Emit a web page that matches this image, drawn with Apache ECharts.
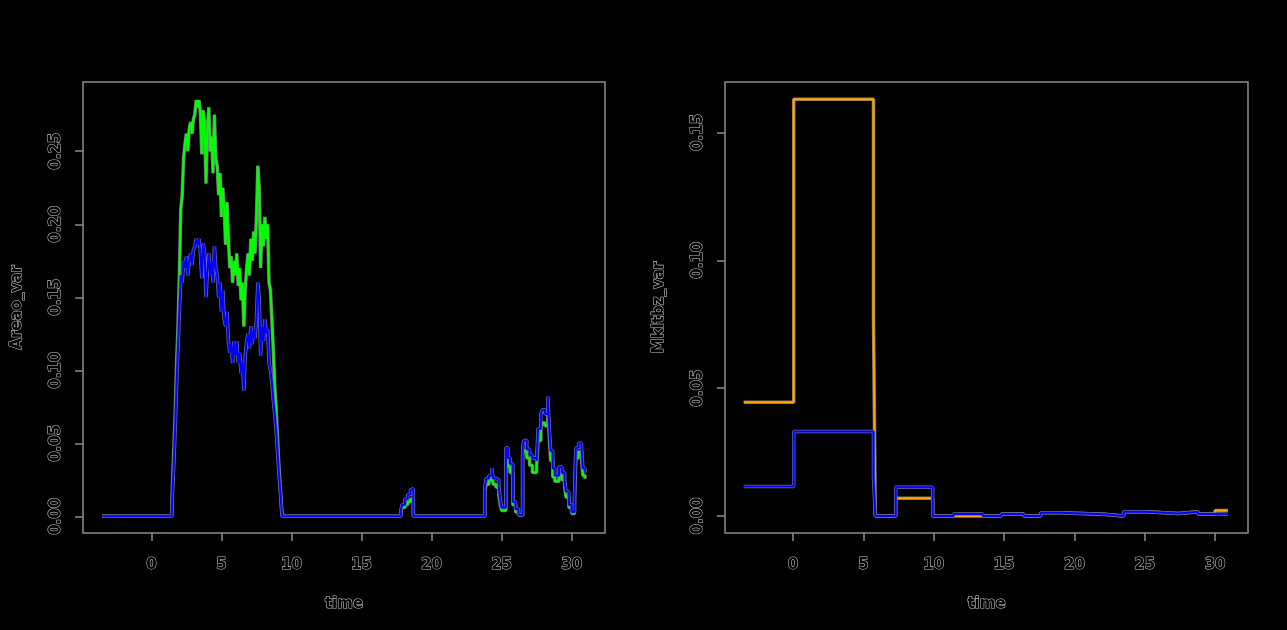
<!DOCTYPE html>
<html>
<head>
<meta charset="utf-8">
<script src="https://cdn.jsdelivr.net/npm/echarts@6/dist/echarts.min.js"></script>
<style>
html,body{margin:0;padding:0;background:#000;}
#c{width:1287px;height:630px;}
</style>
</head>
<body>
<div id="c"></div>
<script>
// ---- Left panel data ----
const timeL = [-3.5,1.45,1.5,1.6,1.7,1.8,1.9,2.0,2.1,2.2,2.3,2.4,2.5,2.6,2.7,2.8,2.9,3.0,3.1,3.2,3.3,3.4,3.5,3.6,3.7,3.8,3.9,4.0,4.1,4.2,4.3,4.4,4.5,4.6,4.7,4.8,4.9,5.0,5.1,5.2,5.3,5.4,5.5,5.6,5.7,5.8,5.9,6.0,6.1,6.2,6.3,6.4,6.5,6.6,6.7,6.8,6.9,7.0,7.1,7.2,7.3,7.4,7.5,7.6,7.7,7.8,7.9,8.0,8.1,8.2,8.3,8.4,8.5,8.6,8.7,8.8,8.9,9.0,9.1,9.2,9.3,9.35,17.8,17.9,18.1,18.3,18.5,18.6,18.7,23.8,23.9,24.1,24.3,24.4,24.6,24.8,24.9,25.0,25.3,25.45,25.6,25.8,26.0,26.2,26.5,26.6,26.8,27.0,27.2,27.5,27.6,27.8,27.9,28.1,28.3,28.4,28.5,28.65,28.8,29.1,29.3,29.5,29.6,29.8,30.0,30.2,30.3,30.5,30.7,30.8,30.95];
const greenL = [0,0,0.02,0.045,0.07,0.105,0.13,0.165,0.21,0.22,0.245,0.255,0.262,0.25,0.265,0.27,0.262,0.272,0.275,0.285,0.28,0.285,0.276,0.248,0.278,0.27,0.228,0.265,0.28,0.25,0.26,0.235,0.275,0.245,0.24,0.22,0.235,0.205,0.225,0.21,0.186,0.215,0.19,0.17,0.178,0.16,0.175,0.165,0.18,0.158,0.17,0.148,0.16,0.13,0.155,0.17,0.18,0.165,0.19,0.175,0.195,0.18,0.205,0.24,0.225,0.17,0.2,0.185,0.205,0.19,0.2,0.16,0.155,0.135,0.115,0.09,0.075,0.055,0.035,0.02,0.005,0,0.003,0.006,0.008,0.01,0.012,0.011,0,0.017,0.022,0.025,0.028,0.022,0.02,0.015,0.008,0.004,0.04,0.034,0.03,0.008,0.003,0.001,0.042,0.045,0.04,0.035,0.03,0.034,0.052,0.06,0.064,0.062,0.074,0.055,0.038,0.027,0.024,0.028,0.025,0.02,0.013,0.006,0.002,0.01,0.04,0.044,0.04,0.028,0.026];
const blueL = [0,0,0.015,0.035,0.06,0.09,0.115,0.14,0.165,0.16,0.175,0.17,0.178,0.165,0.175,0.18,0.172,0.182,0.185,0.19,0.186,0.19,0.18,0.163,0.187,0.18,0.15,0.168,0.18,0.165,0.175,0.16,0.185,0.17,0.165,0.15,0.16,0.14,0.155,0.135,0.13,0.14,0.12,0.112,0.118,0.105,0.12,0.11,0.12,0.105,0.112,0.098,0.106,0.086,0.11,0.12,0.125,0.115,0.13,0.118,0.128,0.122,0.135,0.16,0.148,0.11,0.13,0.12,0.135,0.125,0.128,0.105,0.1,0.092,0.08,0.07,0.06,0.045,0.03,0.018,0.004,0,0.004,0.008,0.012,0.015,0.018,0.019,0,0.02,0.026,0.028,0.033,0.026,0.025,0.02,0.012,0.006,0.047,0.04,0.036,0.01,0.005,0.001,0.048,0.052,0.046,0.042,0.04,0.038,0.06,0.07,0.073,0.07,0.082,0.062,0.045,0.033,0.028,0.034,0.03,0.024,0.017,0.008,0.003,0.013,0.047,0.05,0.048,0.033,0.03];

// ---- Right panel data ----
const timeR = [-3.5,0.05,5.72,5.85,7.3,9.93,11.4,13.5,14.8,16.4,17.6,19.0,22.1,23.5,25.1,27.4,28.8,30.0,30.9];
const orangeR = [0.0445,0.163,0.0767,0,0.0069,0,0,0,0.0008,0,0.0013,0.0007,0,0.0017,0.001,0.0017,0.0008,0.0021,0.0021];
const blueR = [0.0115,0.033,0.0154,0,0.0112,0,0.0008,0,0.0008,0,0.0013,0.0007,0,0.0017,0.001,0.0017,0.0008,0.0007,0.0007];

// ---- Tick labels ----
const xTicks = [0,5,10,15,20,25,30];
const yTicksL = [0,0.05,0.10,0.15,0.20,0.25];
const yTicksR = [0,0.05,0.10,0.15];

const pairs = (t, v) => t.map((x, i) => [x, v[i]]);

const txt = {color:'#000', textBorderColor:'#c4c4c4', textBorderWidth:1.1, fontFamily:'DejaVu Sans', fontWeight:'bold', fontSize:15};
const axisLineStyle = {color:'#8c8c8c', width:1.5};

function xAxis(gi, min, max) {
  return {
    type:'value', gridIndex:gi, min:min, max:max,
    name:'time', nameLocation:'middle', nameGap:64,
    nameTextStyle: Object.assign({}, txt),
    axisLine:{show:false, onZero:false},
    axisTick:{show:true, length:8, inside:false, customValues:xTicks, lineStyle:axisLineStyle},
    axisLabel:Object.assign({customValues:xTicks, margin:25, formatter:v=>String(v)}, txt),
    splitLine:{show:false}
  };
}
function yAxis(gi, min, max, ticks, name) {
  return {
    type:'value', gridIndex:gi, min:min, max:max,
    name:name, nameLocation:'middle', nameGap:58,
    nameTextStyle: Object.assign({}, txt),
    axisLine:{show:false, onZero:false},
    axisTick:{show:true, length:8, inside:false, customValues:ticks, lineStyle:axisLineStyle},
    axisLabel:Object.assign({customValues:ticks, margin:19, rotate:90, formatter:v=>v.toFixed(2)}, txt),
    splitLine:{show:false}
  };
}
function line(gi, data, color, outline) {
  return {
    type:'line', xAxisIndex:gi, yAxisIndex:gi, data:data, step:'end',
    symbol:'none', animation:false, silent:true,
    lineStyle:{color:color, width: outline ? 3.5 : 2}
  };
}

const chart = echarts.init(document.getElementById('c'), null, {renderer:'canvas'});
chart.setOption({
  backgroundColor:'#000',
  animation:false,
  grid:[
    {left:83, top:82, width:522, height:451, show:true, borderColor:'#8c8c8c', borderWidth:1.5, backgroundColor:'transparent'},
    {left:725, top:82, width:523, height:451, show:true, borderColor:'#8c8c8c', borderWidth:1.5, backgroundColor:'transparent'}
  ],
  xAxis:[ xAxis(0, -4.88, 32.38), xAxis(1, -4.833, 32.34) ],
  yAxis:[ yAxis(0, -0.0114, 0.2974, yTicksL, 'Areao_var'), yAxis(1, -0.00665, 0.1697, yTicksR, 'Mkltbz_var') ],
  series:[
    line(0, pairs(timeL, greenL), '#7a7a7a', true),
    line(0, pairs(timeL, greenL), '#00ff00', false),
    line(0, pairs(timeL, blueL), '#6a6a9a', true),
    line(0, pairs(timeL, blueL), '#0000ff', false),
    line(1, pairs(timeR, orangeR), '#8a7a5a', true),
    line(1, pairs(timeR, orangeR), '#ffa500', false),
    line(1, pairs(timeR, blueR), '#6a6a9a', true),
    line(1, pairs(timeR, blueR), '#0000ff', false)
  ]
});
</script>
</body>
</html>
